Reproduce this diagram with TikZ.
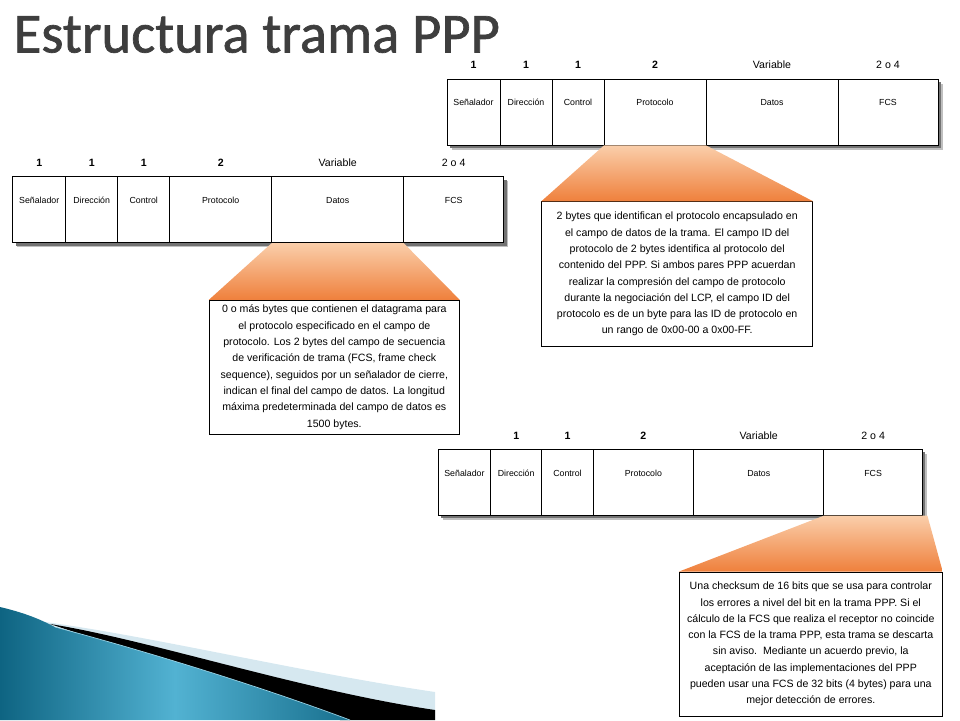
\documentclass[tikz,border=0pt]{standalone}
\usepackage{fontspec}
\setmainfont{Liberation Sans}
\newfontfamily\titlefont[FakeBold=1.2]{Carlito}
\usetikzlibrary{positioning}
\definecolor{titlegray}{RGB}{62,62,62}
\definecolor{peach}{RGB}{250,206,170}
\definecolor{naranja}{RGB}{239,128,60}
\definecolor{tealdark}{RGB}{14,100,130}
\definecolor{teallight}{RGB}{82,178,210}
\definecolor{paleblue}{RGB}{214,232,240}
\tikzset{
  celda/.style={draw=black,line width=0.8pt},
  sombra/.style={fill=black!55},
  campo/.style={font=\fontsize{8.8}{10}\selectfont,text height=6.5pt,text depth=2pt,inner sep=0pt},
  tamano/.style={font=\fontsize{10.6}{12}\selectfont,text height=7.6pt,text depth=0pt,inner sep=0pt},
  nota/.style={draw=black,fill=white,line width=0.8pt,align=center,inner sep=0pt,
    font=\fontsize{10.6}{16.3}\selectfont},
  embudo/.style={top color=peach,bottom color=naranja}
}
% one PPP frame: #1 prefix, #2 scope options, #3 first size label shown
\newcommand{\trama}[3]{%
  \begin{scope}[#2]
    \fill[black!25] (4.5,4.5) rectangle (495.5,70.5);
    \fill[sombra] (3,3) rectangle (494,69);
    \fill[white] (0,0) rectangle (491,66);
    \foreach \xa/\xb/\nombre/\tam [count=\i] in {0/53/Señalador/\textbf{1},
        53/105/Dirección/\textbf{1}, 105/157/Control/\textbf{1},
        157/259/Protocolo/\textbf{2}, 259/391/Datos/Variable, 391/491/FCS/2 o 4}{
      \draw[celda] (\xa,0) rectangle (\xb,66);
      \node[campo] (#1-c\i) at ({(\xa+\xb)/2},24.5) {\nombre};
      \ifnum\i<#3\else
        \node[tamano] (#1-t\i) at ({(\xa+\xb)/2},-14) {\tam};
      \fi
      \coordinate (#1-bl\i) at (\xa,66);
      \coordinate (#1-br\i) at (\xb,66);
    }
  \end{scope}}

\begin{document}
\begin{tikzpicture}[x=1pt,y=-1pt]
  \useasboundingbox (0,0) rectangle (960,720);

  % Title
  \node[anchor=base west,inner sep=0pt,text=titlegray,text depth=0pt,
    font=\titlefont\fontsize{56.6}{57}\selectfont] (titulo) at (13.5,52.5) {Estructura trama PPP};

  % Frames
  \trama{izq}{shift={(12.7,176.7)}}{1}
  \trama{sup}{shift={(447,79)}}{1}
  \trama{inf}{shift={(438.3,449.3)},xscale=0.986}{2}

  % Notes
  \node[nota,minimum width=250pt,minimum height=134pt] (datos) at (334.3,367.2) {%
    0 o más bytes que contienen el datagrama para\\
    el protocolo especificado en el campo de\\
    protocolo. Los 2 bytes del campo de secuencia\\
    de verificación de trama (FCS, frame check\\
    sequence), seguidos por un señalador de cierre,\\
    indican el final del campo de datos. La longitud\\
    máxima predeterminada del campo de datos es\\
    1500 bytes.};
  \node[nota,minimum width=271pt,minimum height=145pt] (proto) at (677.2,274.2) {%
    2 bytes que identifican el protocolo encapsulado en\\
    el campo de datos de la trama. El campo ID del\\
    protocolo de 2 bytes identifica al protocolo del\\
    contenido del PPP. Si ambos pares PPP acuerdan\\
    realizar la compresión del campo de protocolo\\
    durante la negociación del LCP, el campo ID del\\
    protocolo es de un byte para las ID de protocolo en\\
    un rango de 0x00-00 a 0x00-FF.};
  \node[nota,minimum width=263pt,minimum height=144pt] (fcs) at (810.8,644) {%
    Una checksum de 16 bits que se usa para controlar\\
    los errores a nivel del bit en la trama PPP. Si el\\
    cálculo de la FCS que realiza el receptor no coincide\\
    con la FCS de la trama PPP, esta trama se descarta\\
    sin aviso.\ \ Mediante un acuerdo previo, la\\
    aceptación de las implementaciones del PPP\\
    pueden usar una FCS de 32 bits (4 bytes) para una\\
    mejor detección de errores.};

  % Callouts
  \shade[embudo] ([yshift=-0.4pt]izq-bl5) -- ([yshift=-0.4pt]izq-br5) -- (datos.north east) -- (datos.north west) -- cycle;
  \shade[embudo] ([yshift=-0.4pt]sup-bl4) -- ([yshift=-0.4pt]sup-br4) -- (proto.north east) -- (proto.north west) -- cycle;
  \shade[embudo] ([yshift=-0.4pt]inf-bl6) -- ([xshift=5pt,yshift=-0.4pt]inf-br6) -- (fcs.north east) -- (fcs.north west) -- cycle;

  % Corner swoosh
  \fill[paleblue] (45,622) .. controls (150,636) and (300,672) .. (435,692) -- (435,720) -- (50,625) -- cycle;
  \fill[black] (50,624) .. controls (150,640) and (300,690) .. (435,710) -- (435,720) -- (340,720) -- cycle;
  \shade[left color=tealdark,right color=tealdark!85!teallight,middle color=teallight]
    (0,607) .. controls (30,614) and (45,622) .. (55,627)
    .. controls (160,655) and (270,690) .. (350,720) -- (0,720) -- cycle;
  \draw[teallight!60!white,line width=0.7pt] (55,627) .. controls (160,655) and (270,690) .. (350,720);
\end{tikzpicture}
\end{document}
